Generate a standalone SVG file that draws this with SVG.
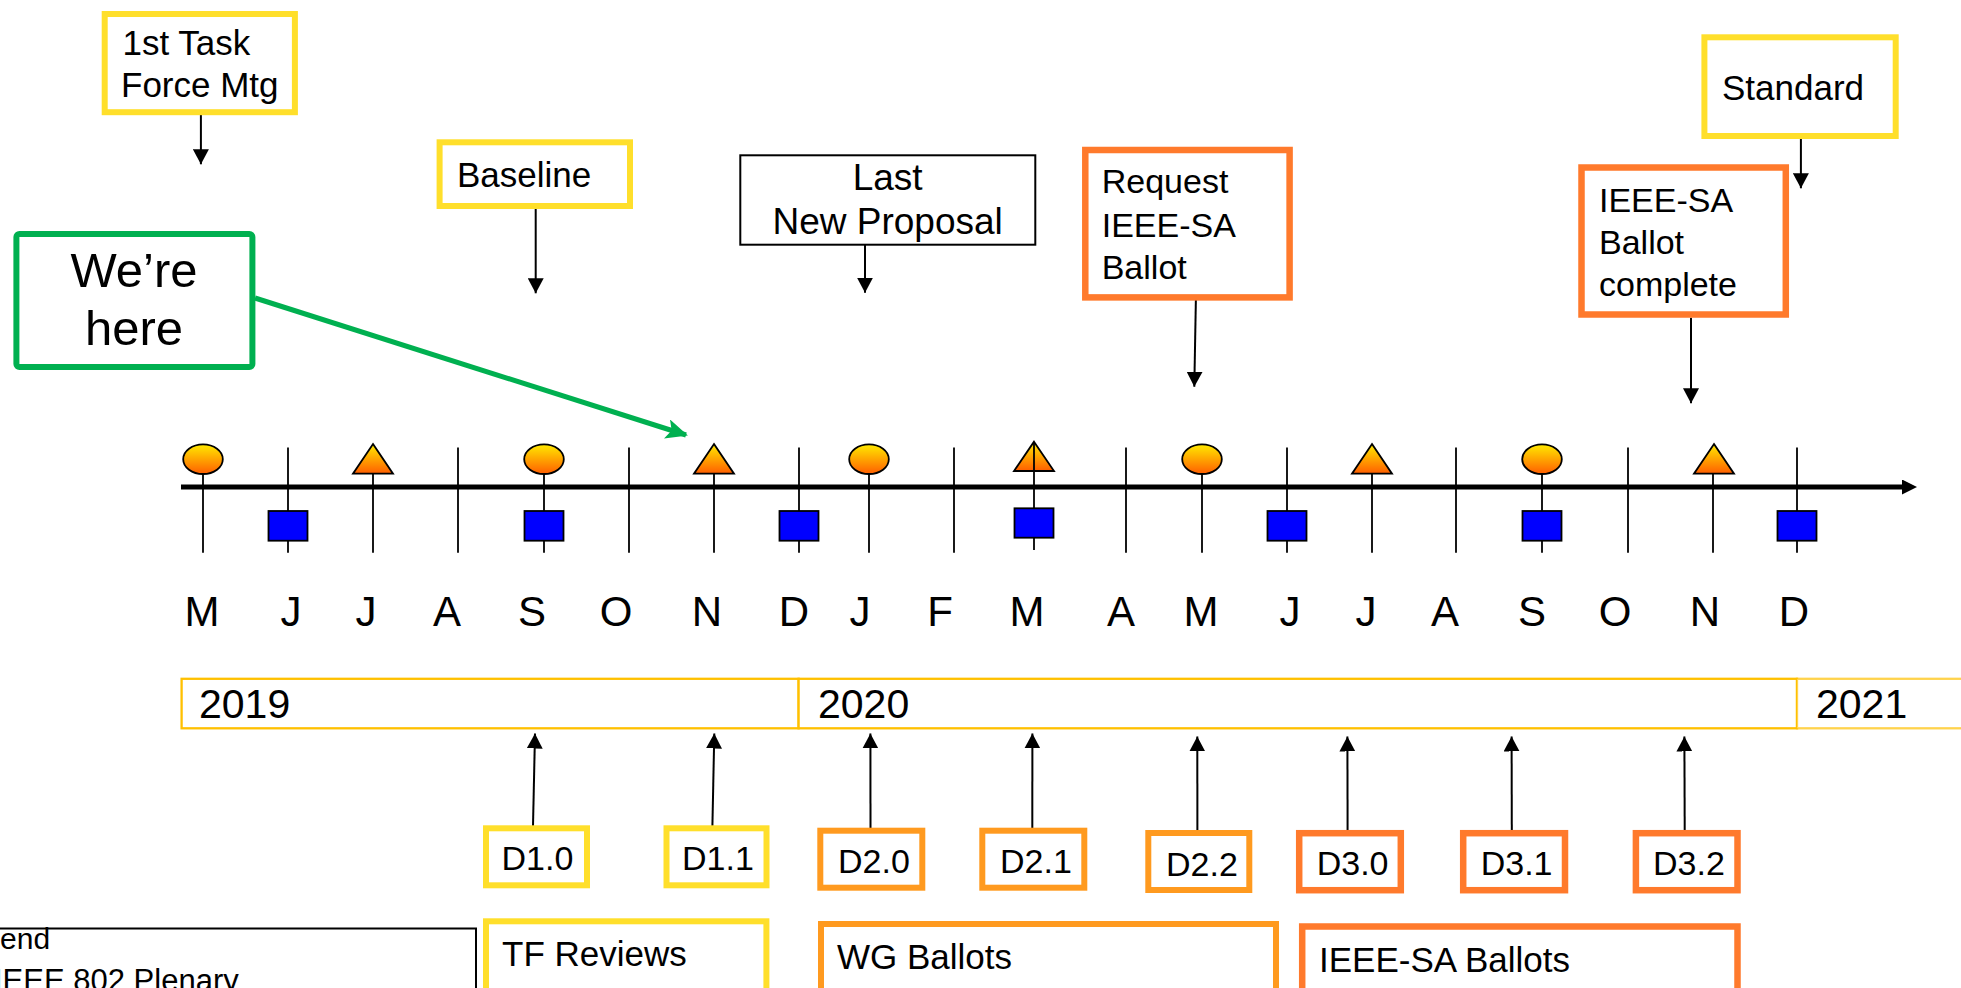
<svg xmlns="http://www.w3.org/2000/svg" width="1961" height="988" viewBox="0 0 1961 988">
<style>
text{font-family:"Liberation Sans",Arial,sans-serif;fill:#000}
.lbl{font-size:35px}
.dl{font-size:34px}
.mon{font-size:42px;text-anchor:middle}
.yr{font-size:41px}
.yel{fill:#fff;stroke:#FFDF2B;stroke-width:6}
.amb{fill:#fff;stroke:#FF9A1F;stroke-width:6}
.org{fill:#fff;stroke:#FF7A2C;stroke-width:6.5}
.ybar{fill:#fff;stroke:#FFC000;stroke-width:2.3}
.conn{stroke:#000;stroke-width:2;fill:none;marker-end:url(#ah)}
.tick{stroke:#000;stroke-width:1.8}
.sym{fill:url(#gr);stroke:#000;stroke-width:1.8}
.sq{fill:#0000FF;stroke:#000;stroke-width:1.8}
</style>
<defs>
<linearGradient id="gr" x1="0" y1="0" x2="0" y2="1">
<stop offset="0" stop-color="#FFEA00"/>
<stop offset="1" stop-color="#FF5E00"/>
</linearGradient>
<marker id="ah" markerUnits="userSpaceOnUse" viewBox="0 0 15 16" refX="15" refY="8" markerWidth="15" markerHeight="16" orient="auto">
<path d="M0,0 L15,8 L0,16 z" fill="#000"/>
</marker>
<marker id="ahg" markerUnits="userSpaceOnUse" viewBox="0 0 22 20" refX="20" refY="10" markerWidth="22" markerHeight="20" orient="auto">
<path d="M0,0 L22,10 L0,20 L5,10 z" fill="#00B050"/>
</marker>
<marker id="aht" markerUnits="userSpaceOnUse" viewBox="0 0 15 15" refX="1" refY="7.5" markerWidth="15" markerHeight="15" orient="auto">
<path d="M0,0 L15,7.5 L0,15 z" fill="#000"/>
</marker>
</defs>
<rect width="1961" height="988" fill="#fff"/>

<!-- timeline -->
<g id="timeline">
<line x1="181" y1="487" x2="1903" y2="487" stroke="#000" stroke-width="5" marker-end="url(#aht)"/>
<!-- plain ticks -->
<g class="tick">
<line x1="458" y1="447.5" x2="458" y2="552.7"/>
<line x1="629" y1="447.5" x2="629" y2="552.7"/>
<line x1="954" y1="447.5" x2="954" y2="552.7"/>
<line x1="1126" y1="447.5" x2="1126" y2="552.7"/>
<line x1="1456" y1="447.5" x2="1456" y2="552.7"/>
<line x1="1628" y1="447.5" x2="1628" y2="552.7"/>
<!-- circle ticks -->
<line x1="203" y1="474" x2="203" y2="552.7"/>
<line x1="544" y1="474" x2="544" y2="552.7"/>
<line x1="869" y1="474" x2="869" y2="552.7"/>
<line x1="1202" y1="474" x2="1202" y2="552.7"/>
<line x1="1542" y1="474" x2="1542" y2="552.7"/>
<!-- square-only ticks -->
<line x1="288" y1="447.5" x2="288" y2="552.7"/>
<line x1="799" y1="447.5" x2="799" y2="552.7"/>
<line x1="1287" y1="447.5" x2="1287" y2="552.7"/>
<line x1="1797" y1="447.5" x2="1797" y2="552.7"/>
<!-- triangle ticks -->
<line x1="373" y1="473.7" x2="373" y2="552.7"/>
<line x1="714" y1="473.7" x2="714" y2="552.7"/>
<line x1="1034" y1="442" x2="1034" y2="550"/>
<line x1="1372" y1="473.7" x2="1372" y2="552.7"/>
<line x1="1713" y1="473.7" x2="1713" y2="552.7"/>
</g>
<!-- circles -->
<ellipse class="sym" cx="203" cy="459.2" rx="19.8" ry="14.8"/>
<ellipse class="sym" cx="544" cy="459.2" rx="19.8" ry="14.8"/>
<ellipse class="sym" cx="869" cy="459.2" rx="19.8" ry="14.8"/>
<ellipse class="sym" cx="1202" cy="459.2" rx="19.8" ry="14.8"/>
<ellipse class="sym" cx="1542" cy="459.2" rx="19.8" ry="14.8"/>
<!-- triangles -->
<polygon class="sym" points="373,444 393,473.7 353,473.7"/>
<polygon class="sym" points="714,444 734,473.7 694,473.7"/>
<polygon class="sym" points="1034,441.7 1054,471 1014,471"/>
<polygon class="sym" points="1372,444 1392,473.7 1352,473.7"/>
<polygon class="sym" points="1714,444 1734,473.7 1694,473.7"/>
<line x1="1034" y1="442" x2="1034" y2="471" class="tick"/>
<!-- squares -->
<rect class="sq" x="268.5" y="511" width="39" height="29.7"/>
<rect class="sq" x="524.5" y="511" width="39" height="29.7"/>
<rect class="sq" x="779.5" y="511" width="39" height="29.7"/>
<rect class="sq" x="1014.5" y="508.3" width="39" height="29.4"/>
<rect class="sq" x="1267.5" y="511" width="39" height="29.7"/>
<rect class="sq" x="1522.5" y="511" width="39" height="29.7"/>
<rect class="sq" x="1777.5" y="511" width="39" height="29.7"/>
</g>

<g id="months">
<text class="mon" x="202" y="626">M</text>
<text class="mon" x="291" y="626">J</text>
<text class="mon" x="366" y="626">J</text>
<text class="mon" x="447" y="626">A</text>
<text class="mon" x="532" y="626">S</text>
<text class="mon" x="616" y="626">O</text>
<text class="mon" x="707" y="626">N</text>
<text class="mon" x="794" y="626">D</text>
<text class="mon" x="860" y="626">J</text>
<text class="mon" x="940" y="626">F</text>
<text class="mon" x="1027" y="626">M</text>
<text class="mon" x="1121" y="626">A</text>
<text class="mon" x="1201" y="626">M</text>
<text class="mon" x="1290" y="626">J</text>
<text class="mon" x="1366" y="626">J</text>
<text class="mon" x="1445" y="626">A</text>
<text class="mon" x="1532" y="626">S</text>
<text class="mon" x="1615" y="626">O</text>
<text class="mon" x="1705" y="626">N</text>
<text class="mon" x="1794" y="626">D</text>
</g>

<g id="years">
<rect class="ybar" x="181.6" y="678.8" width="617" height="49.5"/>
<rect class="ybar" x="798.6" y="678.8" width="998.4" height="49.5"/>
<rect class="ybar" x="1797" y="678.8" width="180" height="49.5" stroke-opacity="0.7"/>
<text class="yr" x="199" y="717.7">2019</text>
<text class="yr" x="818" y="717.7">2020</text>
<text class="yr" x="1816" y="717.7">2021</text>
</g>

<!-- connectors -->
<g id="connectors">
<line class="conn" x1="200.9" y1="115" x2="200.9" y2="164.3"/>
<line class="conn" x1="535.7" y1="209" x2="535.7" y2="293.3"/>
<line class="conn" x1="865" y1="242" x2="865" y2="292.7"/>
<line class="conn" x1="1196" y1="292.7" x2="1194.3" y2="386.7"/>
<line class="conn" x1="1800.9" y1="139" x2="1800.9" y2="188.3"/>
<line class="conn" x1="1691" y1="317.7" x2="1691" y2="403.3"/>
<line class="conn" x1="533" y1="826" x2="535" y2="733.5"/>
<line class="conn" x1="712.4" y1="826" x2="714.3" y2="733.5"/>
<line class="conn" x1="870.5" y1="828" x2="870.4" y2="733.5"/>
<line class="conn" x1="1032.3" y1="828" x2="1032.4" y2="733.5"/>
<line class="conn" x1="1197.4" y1="830" x2="1197.3" y2="736.5"/>
<line class="conn" x1="1347.6" y1="830" x2="1347.4" y2="736.5"/>
<line class="conn" x1="1511.8" y1="830" x2="1511.6" y2="736.5"/>
<line class="conn" x1="1684.7" y1="830" x2="1684.4" y2="736.5"/>
<line x1="255" y1="298" x2="686" y2="435" stroke="#00B050" stroke-width="5" marker-end="url(#ahg)"/>
</g>

<g id="n-1st-task">
<rect class="yel" x="104.7" y="14" width="190.2" height="98.2"/>
<text class="lbl"><tspan x="122.5" y="55">1st Task</tspan><tspan x="121" y="97.3">Force Mtg</tspan></text>
</g>
<g id="n-baseline">
<rect class="yel" x="439.6" y="142.3" width="190.4" height="63.7"/>
<text class="lbl" x="457" y="186.7">Baseline</text>
</g>
<g id="n-were-here">
<rect x="16.4" y="234" width="236" height="133" rx="3" fill="#fff" stroke="#00B050" stroke-width="6"/>
<text font-size="49" text-anchor="middle"><tspan x="134" y="287.3">We’re</tspan><tspan x="134" y="345">here</tspan></text>
</g>
<g id="n-last-proposal">
<rect x="740.3" y="155.3" width="295" height="89.4" fill="#fff" stroke="#000" stroke-width="2"/>
<text font-size="37" text-anchor="middle"><tspan x="887.6" y="190">Last</tspan><tspan x="887.6" y="234.3">New Proposal</tspan></text>
</g>
<g id="n-request">
<rect class="org" x="1085.3" y="150" width="204.3" height="147.4"/>
<text font-size="34"><tspan x="1101.7" y="193.3">Request</tspan><tspan x="1101.7" y="236.7">IEEE-SA</tspan><tspan x="1101.7" y="279.3">Ballot</tspan></text>
</g>
<g id="n-standard">
<rect class="yel" x="1704.4" y="37.3" width="191.3" height="98.7"/>
<text class="lbl" x="1722" y="100">Standard</text>
</g>
<g id="n-complete">
<rect class="org" x="1581.5" y="167.5" width="204.3" height="147"/>
<text font-size="34"><tspan x="1599" y="211.7">IEEE-SA</tspan><tspan x="1599" y="254.3">Ballot</tspan><tspan x="1599" y="296">complete</tspan></text>
</g>

<g id="n-d10"><rect class="yel" x="486" y="828.3" width="101" height="57"/><text class="dl" x="501.5" y="870">D1.0</text></g>
<g id="n-d11"><rect class="yel" x="666.5" y="828.3" width="100" height="57"/><text class="dl" x="682" y="870">D1.1</text></g>
<g id="n-d20"><rect class="amb" x="820.3" y="830.7" width="102" height="57"/><text class="dl" x="838" y="872.7">D2.0</text></g>
<g id="n-d21"><rect class="amb" x="982.3" y="830.7" width="102" height="57"/><text class="dl" x="1000" y="872.7">D2.1</text></g>
<g id="n-d22"><rect class="amb" x="1148.3" y="833" width="101" height="57"/><text class="dl" x="1166" y="875.5">D2.2</text></g>
<g id="n-d30"><rect class="org" x="1299.2" y="833.2" width="101.6" height="57"/><text class="dl" x="1316.7" y="874.5">D3.0</text></g>
<g id="n-d31"><rect class="org" x="1463.2" y="833.2" width="101.8" height="57"/><text class="dl" x="1480.7" y="874.5">D3.1</text></g>
<g id="n-d32"><rect class="org" x="1635.9" y="833.2" width="101.6" height="57"/><text class="dl" x="1653" y="874.5">D3.2</text></g>

<g id="n-tf-reviews"><rect class="yel" x="486" y="921.3" width="280.4" height="100"/><text class="lbl" x="502" y="966">TF Reviews</text></g>
<g id="n-wg-ballots"><rect class="amb" x="821" y="924" width="455" height="100"/><text class="lbl" x="837" y="969">WG Ballots</text></g>
<g id="n-sa-ballots"><rect class="org" x="1302.2" y="926.5" width="435.3" height="100"/><text class="lbl" x="1319" y="971.5">IEEE-SA Ballots</text></g>

<g id="n-legend">
<rect x="-10" y="928.5" width="486" height="100" fill="#fff" stroke="#000" stroke-width="2"/>
<text font-size="30" x="-50" y="949.3">Legend</text>
<text font-size="31" x="-6" y="991">IEEE 802 Plenary</text>
</g>
</svg>
